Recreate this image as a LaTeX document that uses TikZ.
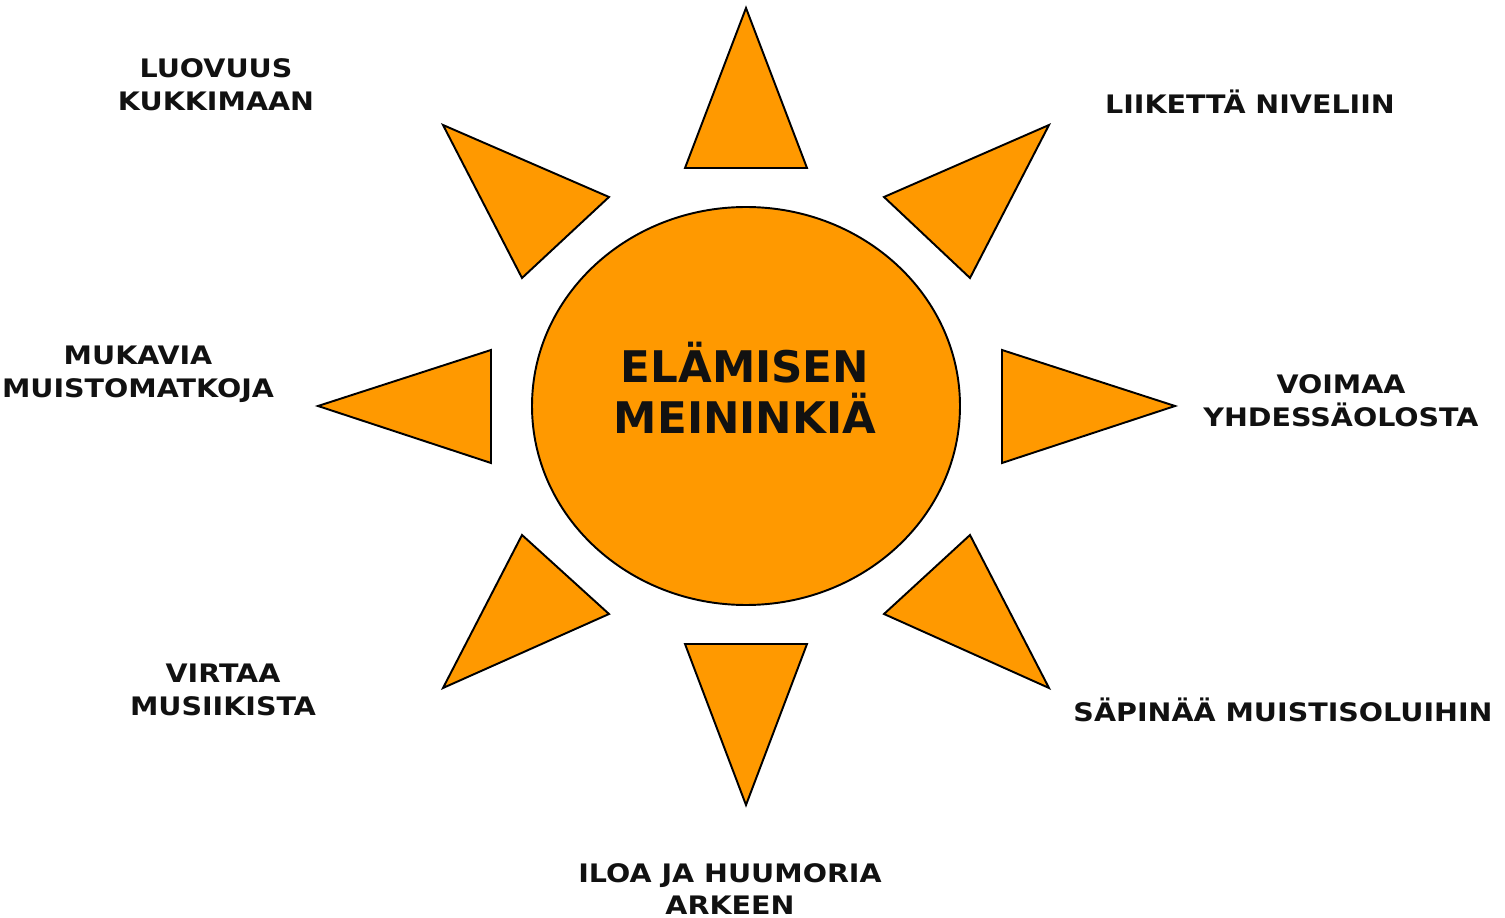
\documentclass[tikz,border=0pt]{standalone}
\usepackage{fontspec}
\setmainfont{DejaVu Sans}
\newfontfamily\lblfont[FakeStretch=1.12]{DejaVu Sans}
\usetikzlibrary{shapes.geometric}
\definecolor{sunorange}{HTML}{FF9900}
\definecolor{txt}{HTML}{111111}
\tikzset{
  ray/.style={fill=sunorange, draw=black, line width=1.1pt, line join=miter},
  lbl/.style={font=\lblfont\bfseries\fontsize{14.5}{18.6}\selectfont, text=txt, align=center, inner sep=0pt},
  ctr/.style={font=\bfseries\fontsize{24.8}{29.2}\selectfont, text=txt, align=center, inner sep=0pt}
}
\begin{document}
\begin{tikzpicture}[x=0.02cm,y=-0.02cm]
\useasboundingbox (0,0) rectangle (1505,918);
% sun body
\node[ellipse, ray, minimum width=428*0.02cm, minimum height=398*0.02cm, inner sep=0pt] (sun) at (746,406) {};
% rays
\draw[ray] (746,8) coordinate (r1) -- (685,168) -- (807,168) -- cycle;
\draw[ray] (1049,125) coordinate (r2) -- (884,197) -- (970,278) -- cycle;
\draw[ray] (1175,406) coordinate (r3) -- (1002,350) -- (1002,463) -- cycle;
\draw[ray] (1049,688) coordinate (r4) -- (884,614) -- (970,535) -- cycle;
\draw[ray] (746,805) coordinate (r5) -- (685,644) -- (807,644) -- cycle;
\draw[ray] (443,688) coordinate (r6) -- (609,614) -- (522,535) -- cycle;
\draw[ray] (318,406) coordinate (r7) -- (491,350) -- (491,463) -- cycle;
\draw[ray] (443,125) coordinate (r8) -- (609,197) -- (522,278) -- cycle;
% centre text
\node[ctr] (title) at (745,388) {ELÄMISEN\\MEININKIÄ};
% labels
\node[lbl] (l1) at (216,85) {LUOVUUS\\KUKKIMAAN};
\node[lbl] (l2) at (1250,102) {LIIKETTÄ NIVELIIN};
\node[lbl] (l3) at (138,374) {MUKAVIA\\MUISTOMATKOJA};
\node[lbl] (l4) at (1341,401) {VOIMAA\\YHDESSÄOLOSTA};
\node[lbl] (l5) at (223,690) {VIRTAA\\MUSIIKISTA};
\node[lbl] (l6) at (1283,710) {SÄPINÄÄ MUISTISOLUIHIN};
\node[lbl] (l7) at (730,889) {ILOA JA HUUMORIA\\ARKEEN};
\end{tikzpicture}
\end{document}
